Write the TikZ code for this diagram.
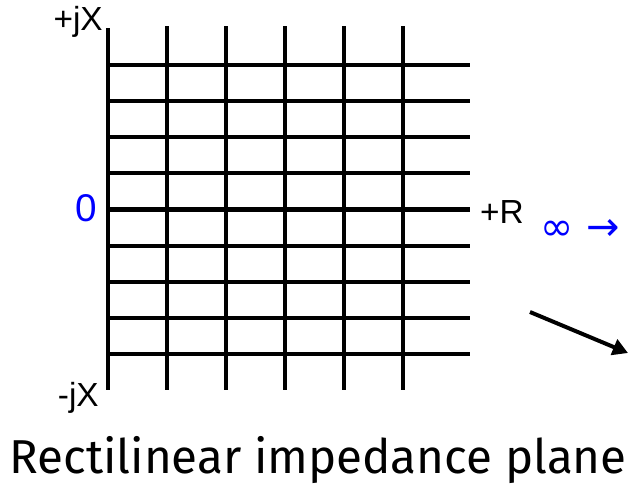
\documentclass[tikz,border=0pt]{standalone}
\usepackage{fontspec}
\setmainfont{Liberation Sans}
\newfontfamily\titlefont{Fira Sans}
\newfontfamily\symfont{DejaVu Sans}
\usetikzlibrary{arrows.meta}

\begin{document}
\begin{tikzpicture}[
		x=0.03cm, y=-0.03cm,
		gridline/.style={line width=3.5pt},
		axislabel/.style={font=\fontsize{28.5}{32}\selectfont, inner sep=0pt},
		zerolabel/.style={font=\fontsize{33}{36}\selectfont, inner sep=0pt, text=blue},
		inftylabel/.style={font=\symfont\fontsize{34}{38}\selectfont, inner sep=0pt, text=blue},
		title/.style={font=\titlefont\fontsize{40.6}{44}\selectfont, inner sep=0pt},
		arrow/.style={-{Triangle[length=13pt, width=14pt]}, line width=3.4pt}
		]
		\useasboundingbox (0,0) rectangle (633,491);
		
		% grid of the plane
		\draw[gridline] (108,28) -- (108,390);
		\foreach \x in {167,226,285,344,403}
		\draw[gridline] (\x,26) -- (\x,390);
		\foreach \i in {0,...,8}
		\draw[gridline] (106,{65+36.125*\i}) -- (470,{65+36.125*\i});
		
		\node[axislabel, anchor=east] (plusjx) at (103,22) {+jX};
		\node[zerolabel] (zero) at (86,208) {0};
		\node[axislabel] (plusr) at (502,212) {+R};
		\node[inftylabel] (infty) at (580,230) {∞ →};
		\node[axislabel, anchor=east] (minusjx) at (99,398) {-jX};
		
		\coordinate (arrowstart) at (530,312);
		\coordinate (arrowend) at (628,353);
		\draw[arrow] (arrowstart) -- (arrowend);
		
		\node[title] (caption) at (318,460) {Rectilinear impedance plane};
		
	\end{tikzpicture}
\end{document}
